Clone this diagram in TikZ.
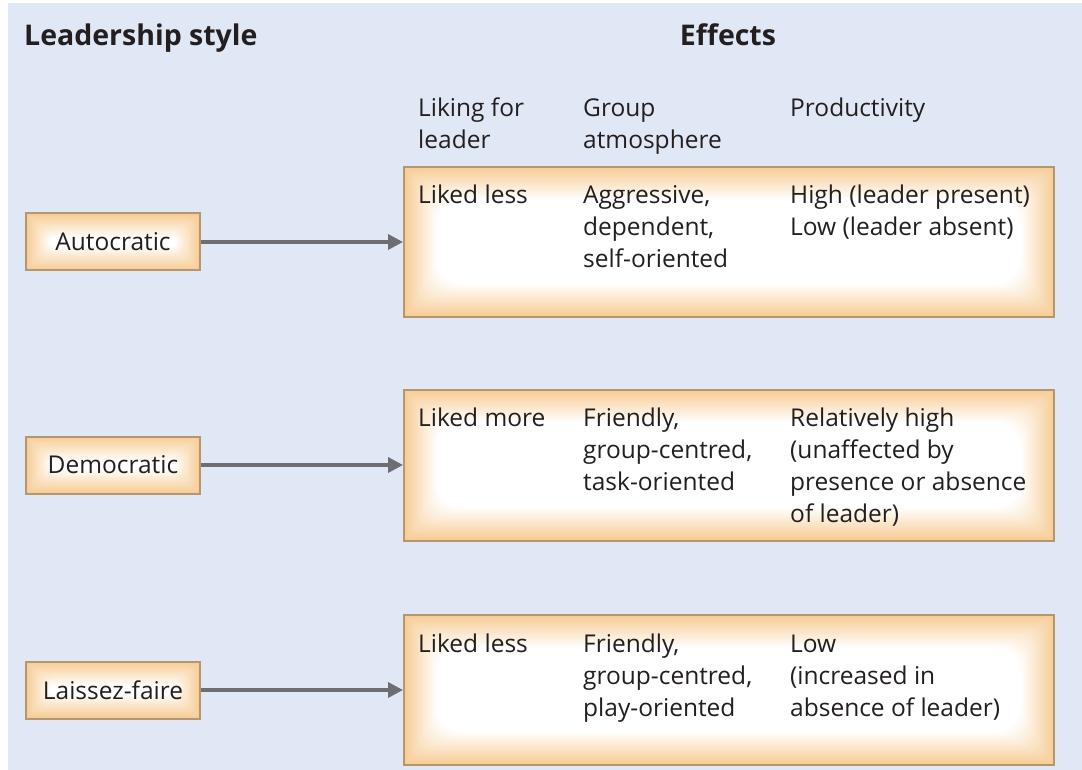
\documentclass[tikz,border=0pt]{standalone}
\usepackage{fontspec}
\setmainfont{Open Sans}
\usetikzlibrary{arrows.meta}
\definecolor{bg}{RGB}{224,232,245}
\definecolor{peach}{RGB}{247,204,148}
\definecolor{brd}{RGB}{180,150,112}
\definecolor{arrowgray}{RGB}{108,110,113}
\definecolor{txt}{RGB}{35,31,32}
\newcommand{\mlines}[1]{\begin{tabular}[t]{@{}l@{}}#1\end{tabular}}
\tikzset{
  glow/.style n args={3}{path picture={
    \foreach \i in {1,...,#1}{
      \pgfmathtruncatemacro\m{min(100,\i*100/#1)}
      \pgfmathsetmacro\d{\i*#2}
      \pgfmathsetmacro\r{max(0.1,min(\d*0.8,#3-\d-1))}
      \fill[white!\m!peach, rounded corners=\r pt]
        ([shift={(\d pt,-\d pt)}]path picture bounding box.north west) rectangle
        ([shift={(-\d pt,\d pt)}]path picture bounding box.south east);
    }}},
  lbox/.style={draw=brd, line width=2pt, fill=peach, glow={22}{1.1}{28.5},
    minimum width=174pt, minimum height=57pt, inner sep=0,
    font=\fontsize{24.5}{32}\selectfont, text=txt},
  rbox/.style={draw=brd, line width=2pt, fill=peach, glow={26}{1.25}{75},
    minimum width=650pt, minimum height=150pt, inner sep=0},
  cell/.style={anchor=base west, inner sep=0, font=\fontsize{24.5}{32}\selectfont, text=txt},
  head/.style={anchor=base west, inner sep=0, font=\bfseries\fontsize{28.5}{32}\selectfont, text=txt},
  arr/.style={draw=arrowgray, line width=3.5pt, -{Triangle[length=15pt,width=15pt]}},
}
\begin{document}
\begin{tikzpicture}[x=1pt,y=-1pt]
\useasboundingbox (0,0) rectangle (1082,770);
\fill[bg] (8,3) rectangle (1082,770);

\node[head] (tls) at (24,46) {Leadership style};
\node[head, anchor=base] (tef) at (728,46) {Effects};
\node[cell] (h1) at (418,117) {\mlines{Liking for\\leader}};
\node[cell] (h2) at (583,117) {\mlines{Group\\atmosphere}};
\node[cell] (h3) at (790,117) {Productivity};

\node[rbox] (b1) at (729,242) {};
\node[rbox, minimum height=151pt] (b2) at (729,465) {};
\node[rbox] (b3) at (729,690) {};

\node[lbox] (auto) at (113,242) {Autocratic};
\node[lbox] (demo) at (113,465) {Democratic};
\node[lbox] (lais) at (113,690) {Laissez-faire};

\draw[arr] (auto.east) -- (b1.west);
\draw[arr] (demo.east) -- (b2.west);
\draw[arr] (lais.east) -- (b3.west);

\node[cell] (r1a) at (418,204) {Liked less};
\node[cell] (r1b) at (583,204) {\mlines{Aggressive,\\dependent,\\self-oriented}};
\node[cell] (r1c) at (790,204) {\mlines{High (leader present)\\Low (leader absent)}};

\node[cell] (r2a) at (418,426) {Liked more};
\node[cell] (r2b) at (583,426) {\mlines{Friendly,\\group-centred,\\task-oriented}};
\node[cell] (r2c) at (790,426) {\mlines{Relatively high\\(unaffected by\\presence or absence\\of leader)}};

\node[cell] (r3a) at (418,652) {Liked less};
\node[cell] (r3b) at (583,652) {\mlines{Friendly,\\group-centred,\\play-oriented}};
\node[cell] (r3c) at (790,652) {\mlines{Low\\(increased in\\absence of leader)}};
\end{tikzpicture}
\end{document}
